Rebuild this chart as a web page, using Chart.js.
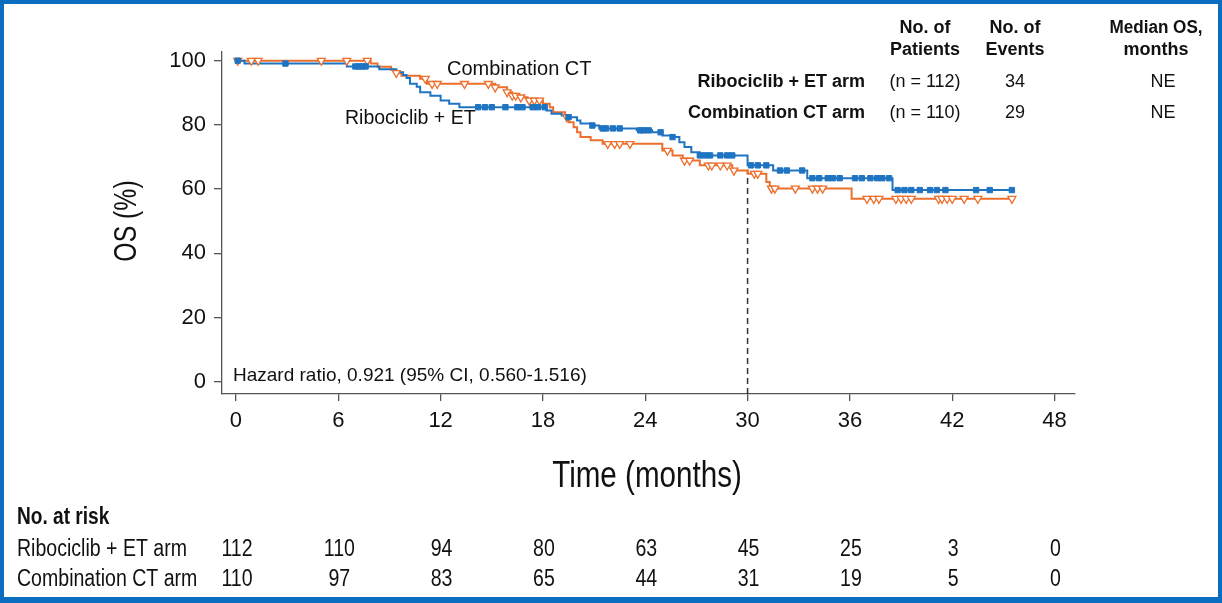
<!DOCTYPE html>
<html>
<head>
<meta charset="utf-8">
<script src="https://cdn.jsdelivr.net/npm/chart.js@4.4.1/dist/chart.umd.min.js"></script>
<style>
  body { margin: 0; background: #fff; }
  #wrap { position: relative; width: 1222px; height: 603px; overflow: hidden; }
  #frame { position: absolute; left: 0; top: 0; width: 1222px; height: 603px; box-sizing: border-box;
           border: 4px solid #0b6dbf; border-bottom-width: 6px; pointer-events: none; }
  canvas { position: absolute; left: 0; top: 0; }
</style>
</head>
<body>
<div id="wrap">
  <canvas id="myChart" width="1222" height="603"></canvas>
  <div id="frame"></div>
</div>
<script>
// Kaplan-Meier steps: time (months) and survival (%) after each step
var riboTime = [0, 0.5, 6.5, 8.4, 9.4, 9.8, 10.0, 10.2, 10.6, 10.8, 11.4, 12.0, 12.5, 13.1,
                18.2, 18.5, 19.1, 19.5, 20.0, 20.2, 20.9, 21.3, 23.5, 24.4, 25.0, 25.6, 26.0,
                26.3, 26.7, 27.2, 30.0, 31.5, 33.5, 38.5, 45.5];
var riboSurv = [100, 99.1, 98.2, 97.3, 96.4, 95.5, 94.6, 92.8, 91.9, 90.2, 89.1, 87.6, 86.6, 85.5,
                84.5, 83.5, 82.9, 82.4, 81.4, 80.4, 79.8, 78.9, 78.3, 77.7, 76.7, 76.2, 74.6,
                73.1, 71.5, 70.5, 67.4, 65.8, 63.4, 59.7, 59.7];
var ctTime = [0, 7.9, 8.3, 9.1, 9.4, 9.7, 10.8, 11.2, 15.2, 15.9, 16.2, 16.6, 17.1, 18.0,
              18.4, 18.6, 19.3, 19.5, 19.8, 20.0, 20.2, 20.8, 21.5, 25.0, 25.6, 26.2, 27.2,
              29.1, 30.0, 31.1, 31.3, 36.1, 45.5];
var ctSurv = [100, 99.1, 98.1, 97.2, 96.2, 95.3, 94.4, 92.8, 91.7, 90.2, 89.1, 88.6, 87.6, 86.6,
              85.5, 83.9, 82.4, 80.8, 79.3, 77.7, 76.2, 75.2, 74.1, 72.0, 70.5, 68.9, 67.4,
              65.8, 64.8, 62.2, 60.2, 57.0, 57.0];

// censored observations (months)
var riboCensor = [0.1, 2.9, 7.0, 7.2, 7.4, 7.6, 14.2, 14.6, 15.0, 15.8, 16.5, 16.8, 17.4, 17.7,
                  18.1, 19.5, 20.9, 21.5, 21.7, 22.1, 22.5, 23.7, 23.9, 24.2, 24.9, 25.6, 27.2,
                  27.5, 27.8, 28.4, 28.8, 29.1, 30.2, 30.6, 31.1, 31.9, 32.3, 33.2, 33.8, 34.2,
                  34.7, 35.0, 35.4, 36.3, 36.7, 37.2, 37.6, 37.9, 38.3, 38.8, 39.2, 39.6, 40.1,
                  40.7, 41.1, 41.6, 43.4, 44.2, 45.5];
var ctCensor = [0.1, 0.9, 1.3, 5.0, 6.5, 7.7, 9.4, 11.1, 11.5, 11.8, 13.4, 14.8, 15.2, 15.9,
                16.2, 16.4, 16.7, 17.2, 17.5, 17.8, 19.4, 21.8, 22.2, 22.5, 23.1, 25.3, 26.3,
                26.6, 27.7, 27.9, 28.4, 28.8, 29.2, 30.4, 30.6, 31.4, 31.6, 32.8, 33.8, 34.1,
                34.4, 37.0, 37.4, 37.7, 38.7, 39.0, 39.3, 39.6, 41.2, 41.4, 41.7, 42.0, 42.7,
                43.5, 45.5];

var xTicks = [0, 6, 12, 18, 24, 30, 36, 42, 48];
var yTicks = [0, 20, 40, 60, 80, 100];

var riskRibo = [112, 110, 94, 80, 63, 45, 25, 3, 0];
var riskCt = [110, 97, 83, 65, 44, 31, 19, 5, 0];

var armNames = ['Ribociclib + ET arm', 'Combination CT arm'];
var armPatients = ['(n = 112)', '(n = 110)'];
var armEvents = ['34', '29'];
var armMedian = ['NE', 'NE'];

var blue = '#1f74c2';
var orange = '#ec6f2d';

function survAt(times, surv, t) {
    var s = surv[0];
    for (var i = 0; i < times.length; i++) {
        if (times[i] <= t) s = surv[i];
    }
    return s;
}

function toPoints(times, surv) {
    return times.map(function (t, i) { return { x: t, y: surv[i] }; });
}

function censorPoints(list, times, surv) {
    return list.map(function (t) { return { x: t, y: survAt(times, surv, t) }; });
}

function txt(ctx, s, x, y, font, align, sx, color) {
    ctx.save();
    ctx.font = font;
    ctx.fillStyle = color || '#111';
    ctx.textBaseline = 'middle';
    ctx.textAlign = align || 'left';
    ctx.translate(x, y);
    ctx.scale(sx || 1, 1);
    ctx.fillText(s, 0, 0);
    ctx.restore();
}

var textPlugin = {
    id: 'texts',
    afterDraw: function (chart) {
        var ctx = chart.ctx;
        var xs = chart.scales.x;
        var F = "'Liberation Sans', Arial, sans-serif";

        // curve labels and hazard ratio
        txt(ctx, 'Combination CT', 447, 69, '20px ' + F, 'left');
        txt(ctx, 'Ribociclib + ET', 345, 119, '19.5px ' + F, 'left');
        txt(ctx, 'Hazard ratio, 0.921 (95% CI, 0.560-1.516)', 233, 376, '19px ' + F, 'left');

        // axis titles
        ctx.save();
        ctx.translate(127, 221);
        ctx.rotate(-Math.PI / 2);
        txt(ctx, 'OS (%)', 0, 0, '31px ' + F, 'center', 0.8);
        ctx.restore();
        txt(ctx, 'Time (months)', 647, 477, '37px ' + F, 'center', 0.8);

        // legend table
        var bold = 'bold 18px ' + F;
        txt(ctx, 'No. of', 925, 28, bold, 'center');
        txt(ctx, 'Patients', 925, 50, bold, 'center');
        txt(ctx, 'No. of', 1015, 28, bold, 'center');
        txt(ctx, 'Events', 1015, 50, bold, 'center');
        txt(ctx, 'Median OS,', 1156, 28, bold, 'center', 0.95);
        txt(ctx, 'months', 1156, 50, bold, 'center');
        var rowY = [82, 113];
        for (var i = 0; i < 2; i++) {
            txt(ctx, armNames[i], 865, rowY[i], 'bold 18px ' + F, 'right');
            txt(ctx, armPatients[i], 925, rowY[i], '18px ' + F, 'center');
            txt(ctx, armEvents[i], 1015, rowY[i], '18px ' + F, 'center');
            txt(ctx, armMedian[i], 1163, rowY[i], '18px ' + F, 'center');
        }

        // number at risk
        txt(ctx, 'No. at risk', 17, 518, 'bold 23px ' + F, 'left', 0.83);
        txt(ctx, armNames[0], 17, 550, '23px ' + F, 'left', 0.85);
        txt(ctx, armNames[1], 17, 580, '23px ' + F, 'left', 0.85);
        xTicks.forEach(function (t, i) {
            var px = xs.getPixelForValue(t) + 1;
            txt(ctx, String(riskRibo[i]), px, 550, '23px ' + F, 'center', 0.85);
            txt(ctx, String(riskCt[i]), px, 580, '23px ' + F, 'center', 0.85);
        });
    }
};

var ctx = document.getElementById('myChart').getContext('2d');

var myChart = new Chart(ctx, {
    type: 'scatter',
    data: {
        datasets: [
            {
                label: 'Ribociclib + ET censored',
                data: censorPoints(riboCensor, riboTime, riboSurv),
                pointStyle: 'rect',
                pointRadius: 3.8,
                backgroundColor: blue,
                borderColor: blue,
                borderWidth: 1,
                showLine: false
            },
            {
                label: 'Combination CT censored',
                data: censorPoints(ctCensor, ctTime, ctSurv),
                pointStyle: 'triangle',
                rotation: 180,
                pointRadius: 4.6,
                backgroundColor: '#fff',
                borderColor: orange,
                borderWidth: 1.3,
                showLine: false
            },
            {
                label: 'Ribociclib + ET',
                data: toPoints(riboTime, riboSurv),
                showLine: true,
                stepped: true,
                pointRadius: 0,
                borderColor: blue,
                borderWidth: 2
            },
            {
                label: 'Combination CT',
                data: toPoints(ctTime, ctSurv),
                showLine: true,
                stepped: true,
                pointRadius: 0,
                borderColor: orange,
                borderWidth: 2
            },
            {
                label: 'median',
                data: [{ x: 30, y: -3.8 }, { x: 30, y: 66 }],
                showLine: true,
                pointRadius: 0,
                borderColor: '#333',
                borderWidth: 1.5,
                borderDash: [6, 4]
            }
        ]
    },
    options: {
        responsive: false,
        animation: false,
        layout: { padding: { left: 0, top: 52, right: 147, bottom: 169 } },
        plugins: { legend: { display: false }, tooltip: { enabled: false } },
        scales: {
            x: {
                type: 'linear',
                min: -0.82,
                max: 49.2,
                afterBuildTicks: function (s) { s.ticks = xTicks.map(function (v) { return { value: v }; }); },
                afterFit: function (s) { s.height = 40; },
                grid: { drawOnChartArea: false, drawTicks: true, tickLength: 7, color: '#555', lineWidth: 1.3 },
                border: { display: true, color: '#555', width: 1.3 },
                ticks: { color: '#111', font: { family: "'Liberation Sans', Arial, sans-serif", size: 22 }, padding: 7, maxRotation: 0 }
            },
            y: {
                min: -3.8,
                max: 102.7,
                afterBuildTicks: function (s) { s.ticks = yTicks.map(function (v) { return { value: v }; }); },
                afterFit: function (s) { s.width = 222; },
                grid: { drawOnChartArea: false, drawTicks: true, tickLength: 8, color: '#555', lineWidth: 1.3 },
                border: { display: true, color: '#555', width: 1.3 },
                ticks: { color: '#111', font: { family: "'Liberation Sans', Arial, sans-serif", size: 22 }, padding: 8 }
            }
        }
    },
    plugins: [textPlugin]
});
</script>
</body>
</html>
